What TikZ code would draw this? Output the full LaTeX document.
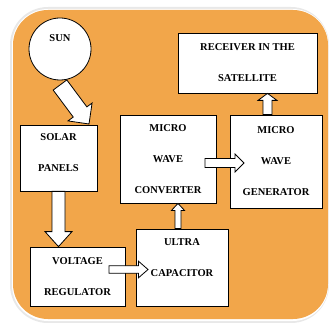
\documentclass[tikz,border=0pt]{standalone}
\usepackage{fontspec}
\setmainfont{Liberation Serif}
\usetikzlibrary{calc}
\definecolor{bgor}{RGB}{242,166,74}
\definecolor{shadowgray}{RGB}{232,232,232}
\tikzset{
  box/.style={draw=black, line width=0.8pt, fill=white, rectangle, inner sep=0pt, align=center, font=\txtfont},
  txt/.style={inner sep=0pt, align=center, font=\txtfont},
  barrow/.style={draw=black, line width=0.8pt, fill=white, line join=miter},
}
\newcommand\txtfont{\bfseries\fontsize{10.5}{31}\selectfont}
% #1 start, #2 tip, #3 shaft half width, #4 head half width, #5 head length
\newcommand\blockarrow[5]{%
  \coordinate (bah) at ($(#2)!#5!(#1)$);
  \filldraw[barrow] ($(#1)!#3!90:(#2)$) -- ($(bah)!#3!90:(#2)$) -- ($(bah)!#4!90:(#2)$)
    -- (#2) -- ($(bah)!#4!-90:(#2)$) -- ($(bah)!#3!-90:(#2)$) -- ($(#1)!#3!-90:(#2)$) -- cycle;}
\begin{document}
\begin{tikzpicture}[x=1pt,y=-1pt]
\useasboundingbox (0,0) rectangle (329,323);
% background panel
\fill[shadowgray, rounded corners=38pt] (10,7) rectangle (329,323);
\fill[white, rounded corners=36pt] (12,9) rectangle (328.5,321);
\fill[bgor, rounded corners=35pt] (13,10) rectangle (328,319);
% boxes
\node[box, minimum width=77pt, minimum height=66pt] (solar) at (58.5,158) {};
\node[txt] (solartxt) at (58.5,153) {SOLAR\\PANELS};
\node[box, minimum width=95pt, minimum height=59pt] (voltage) at (77.5,276.5) {VOLTAGE\\REGULATOR};
\node[box, minimum width=92pt, minimum height=77pt] (ultra) at (182,267.5) {};
\node[txt] (ultratxt) at (182,257.5) {ULTRA\\CAPACITOR};
\node[box, minimum width=96pt, minimum height=88pt] (conv) at (168,159) {MICRO\\WAVE\\CONVERTER};
\node[box, minimum width=92pt, minimum height=93pt] (gen) at (276,161.5) {MICRO\\WAVE\\GENERATOR};
\node[box, minimum width=139pt, minimum height=60pt] (recv) at (247.5,63) {RECEIVER IN THE\\SATELLITE};
% connector end points
\coordinate (a1s) at (60,85);
\coordinate (a1e) at (89,124);
\coordinate (a2s) at (solar.south);
\coordinate (a2e) at (solar.south |- voltage.north);
\coordinate (a3s) at (109,269.5);
\coordinate (a3e) at (148,269.5);
\coordinate (a4s) at ($(ultra.north)+(-4,0)$);
\coordinate (a4e) at (a4s |- conv.south);
\coordinate (a5s) at (205,163);
\coordinate (a5e) at (244,163);
\coordinate (a6s) at ($(gen.north)+(-8.5,0)$);
\coordinate (a6e) at (a6s |- recv.south);
% block arrows
\blockarrow{a1s}{a1e}{8.5pt}{15pt}{15pt}
\blockarrow{a2s}{a2e}{6.5pt}{13.5pt}{15pt}
\blockarrow{a3s}{a3e}{3.7pt}{8.3pt}{9.5pt}
\blockarrow{a4s}{a4e}{3pt}{6.5pt}{7pt}
\blockarrow{a5s}{a5e}{4.5pt}{9pt}{9pt}
\blockarrow{a6s}{a6e}{4.5pt}{9.5pt}{7pt}
% sun
\node[draw=black, line width=0.8pt, fill=white, circle, minimum size=62pt, inner sep=0pt] (sun) at (60,49) {};
\node[txt] (suntxt) at (60,38) {SUN};
\end{tikzpicture}
\end{document}
